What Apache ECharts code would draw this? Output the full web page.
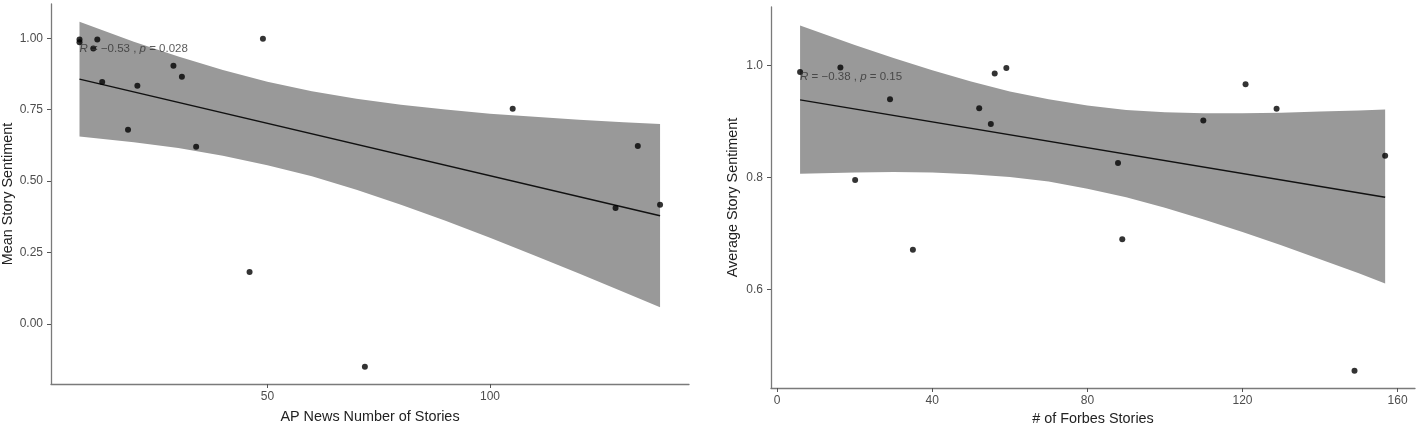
<!DOCTYPE html>
<html>
<head>
<meta charset="utf-8">
<title>Story sentiment vs. number of stories</title>
<script src="https://cdn.jsdelivr.net/npm/echarts@6/dist/echarts.min.js"></script>
<style>
  html, body { margin: 0; padding: 0; background: #fff; }
  #chart { width: 1416px; height: 426px; }
</style>
</head>
<body>
<div id="chart"></div>
<script>
// AP News panel (left)
const apStories = [7.8, 7.8, 11.8, 10.9, 12.9, 20.8, 18.7, 28.9, 30.8, 34.0, 49.0, 46.0, 105.1, 133.2, 71.9, 128.2, 138.2];
const apSentiment = [0.996, 0.986, 0.996, 0.964, 0.847, 0.834, 0.680, 0.904, 0.865, 0.620, 0.998, 0.182, 0.753, 0.623, -0.150, 0.406, 0.417];
const apFitX = [7.8, 138.2];
const apFitY = [0.857, 0.379];
const apBandX = [7.8, 20, 30, 40, 50, 60, 70, 80, 90, 100, 110, 120, 130, 138.2];
const apBandUpper = [1.058, 0.988, 0.936, 0.889, 0.848, 0.815, 0.788, 0.767, 0.751, 0.736, 0.725, 0.715, 0.706, 0.700];
const apBandLower = [0.656, 0.636, 0.616, 0.589, 0.556, 0.517, 0.470, 0.417, 0.361, 0.302, 0.240, 0.177, 0.112, 0.059];
const apXTicks = [50, 100];
const apYTicks = [0, 0.25, 0.5, 0.75, 1];

// Forbes panel (right)
const forbesStories = [5.9, 16.3, 20.1, 29.1, 52.1, 55.1, 56.1, 59.1, 35.0, 87.9, 109.9, 120.8, 128.8, 156.8, 89.0, 148.9];
const forbesSentiment = [0.989, 0.997, 0.796, 0.940, 0.924, 0.896, 0.986, 0.996, 0.671, 0.826, 0.902, 0.967, 0.923, 0.839, 0.690, 0.455];
const forbesFitX = [5.9, 156.8];
const forbesFitY = [0.939, 0.765];
const forbesBandX = [5.9, 20, 30, 40, 50, 60, 70, 80, 90, 100, 110, 120, 130, 140, 150, 156.8];
const forbesBandUpper = [1.072, 1.037, 1.014, 0.992, 0.972, 0.954, 0.940, 0.929, 0.921, 0.917, 0.915, 0.915, 0.916, 0.918, 0.920, 0.922];
const forbesBandLower = [0.807, 0.809, 0.810, 0.809, 0.806, 0.801, 0.793, 0.780, 0.765, 0.746, 0.725, 0.703, 0.679, 0.654, 0.629, 0.611];
const forbesXTicks = [0, 40, 80, 120, 160];
const forbesYTicks = [0.6, 0.8, 1.0];

const FONT = "Liberation Sans, Arial, sans-serif";
const BAND = "#999999";

function pairs(xs, ys) {
  return xs.map((x, i) => [x, ys[i]]);
}

function axisBase(gridIndex, min, max, ticks, digits, name, gap, vertical) {
  return {
    type: "value",
    gridIndex: gridIndex,
    min: min,
    max: max,
    name: name,
    nameLocation: "middle",
    nameGap: gap,
    nameTextStyle: { color: "#222", fontSize: 14.4, fontFamily: FONT },
    splitLine: { show: false },
    axisLine: { show: true, onZero: false, lineStyle: { color: "#7a7a7a", width: 1.3 } },
    axisTick: { show: true, length: 4, customValues: ticks, lineStyle: { color: "#555" } },
    axisLabel: {
      customValues: ticks,
      color: "#4d4d4d",
      fontSize: 12,
      fontFamily: FONT,
      margin: vertical ? 8 : 7,
      formatter: (v) => Number(v).toFixed(digits),
    },
  };
}

// confidence band: one polygon, upper edge left->right then lower edge back
function bandSeries(axisIdx, xs, lower, upper) {
  const rows = xs.map((x, i) => [x, lower[i], upper[i]]);
  return {
    type: "custom",
    xAxisIndex: axisIdx,
    yAxisIndex: axisIdx,
    data: rows,
    silent: true,
    z: 1,
    renderItem: function (params, api) {
      if (params.dataIndex !== 0) return null;
      const top = rows.map((r) => api.coord([r[0], r[2]]));
      const bottom = rows.map((r) => api.coord([r[0], r[1]])).reverse();
      return {
        type: "polygon",
        shape: { points: top.concat(bottom) },
        style: { fill: BAND },
      };
    },
  };
}

function fitSeries(axisIdx, xs, ys) {
  return {
    type: "line",
    xAxisIndex: axisIdx,
    yAxisIndex: axisIdx,
    data: pairs(xs, ys),
    symbol: "none",
    lineStyle: { color: "#111", width: 1.5 },
    z: 3,
  };
}

function pointSeries(axisIdx, xs, ys) {
  return {
    type: "scatter",
    xAxisIndex: axisIdx,
    yAxisIndex: axisIdx,
    data: pairs(xs, ys),
    symbolSize: 6,
    itemStyle: { color: "#000" },
    z: 4,
  };
}

function statLabel(axisIdx, pos, r, p) {
  return {
    type: "scatter",
    xAxisIndex: axisIdx,
    yAxisIndex: axisIdx,
    data: [pos],
    symbolSize: 0,
    silent: true,
    z: 5,
    label: {
      show: true,
      position: "right",
      distance: 0,
      formatter: "{i|R} = " + r + " , {i|p} = " + p,
      color: "#333",
      fontSize: 11.5,
      fontFamily: FONT,
      rich: { i: { fontStyle: "italic", fontSize: 11.5, color: "#333", fontFamily: FONT } },
    },
  };
}

const chart = echarts.init(document.getElementById("chart"));

chart.setOption({
  animation: false,
  backgroundColor: "#fff",
  grid: [
    { left: 51, top: 4, width: 638, height: 380, outerBoundsMode: "none", containLabel: false },
    { left: 771, top: 7, width: 644, height: 381, outerBoundsMode: "none", containLabel: false },
  ],
  xAxis: [
    axisBase(0, 1.4, 144.7, apXTicks, 0, "AP News Number of Stories", 26, false),
    axisBase(1, -1.6, 164.5, forbesXTicks, 0, "# of Forbes Stories", 23, false),
  ],
  yAxis: [
    axisBase(0, -0.21, 1.12, apYTicks, 2, "Mean Story Sentiment", 36, true),
    axisBase(1, 0.424, 1.105, forbesYTicks, 1, "Average Story Sentiment", 31, true),
  ],
  series: [
    bandSeries(0, apBandX, apBandLower, apBandUpper),
    fitSeries(0, apFitX, apFitY),
    pointSeries(0, apStories, apSentiment),
    statLabel(0, [7.8, 0.963], "\u22120.53", "0.028"),
    bandSeries(1, forbesBandX, forbesBandLower, forbesBandUpper),
    fitSeries(1, forbesFitX, forbesFitY),
    pointSeries(1, forbesStories, forbesSentiment),
    statLabel(1, [5.9, 0.980], "\u22120.38", "0.15"),
  ],
});
</script>
</body>
</html>
